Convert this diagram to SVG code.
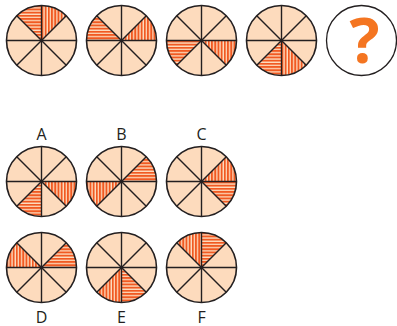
<svg xmlns="http://www.w3.org/2000/svg" xmlns:xlink="http://www.w3.org/1999/xlink" width="397" height="326" viewBox="0 0 397 326">
  <style>
    .disc { fill: #fddbbd; }
    .spoke { stroke: #231f20; stroke-width: 1.4; fill: none; }
    .rim { stroke: #231f20; stroke-width: 1.6; fill: none; }
    .label { font-family: "Open Sans", "Liberation Sans", sans-serif; font-size: 16px; fill: #231f20; text-anchor: middle; }
    .ask { font-family: "Open Sans", "Liberation Sans", sans-serif; font-weight: bold; font-size: 63px; fill: #f47521; text-anchor: middle; }
  </style>
  <defs>
    <!-- stripe fills -->
    <pattern id="horiz" patternUnits="userSpaceOnUse" width="6" height="3.2">
      <rect width="6" height="3.2" fill="#fddbbd"/>
      <rect width="6" height="1.9" fill="#f15a22"/>
    </pattern>
    <pattern id="vert" patternUnits="userSpaceOnUse" width="3.2" height="6">
      <rect width="3.2" height="6" fill="#fddbbd"/>
      <rect width="1.9" height="6" fill="#f15a22"/>
    </pattern>
    <!-- eight sectors, clockwise from 12 o'clock -->
    <path id="w0" d="M0,0 L0,-35 A35,35 0 0 1 24.75,-24.75 Z"/>
    <path id="w1" d="M0,0 L24.75,-24.75 A35,35 0 0 1 35,0 Z"/>
    <path id="w2" d="M0,0 L35,0 A35,35 0 0 1 24.75,24.75 Z"/>
    <path id="w3" d="M0,0 L24.75,24.75 A35,35 0 0 1 0,35 Z"/>
    <path id="w4" d="M0,0 L0,35 A35,35 0 0 1 -24.75,24.75 Z"/>
    <path id="w5" d="M0,0 L-24.75,24.75 A35,35 0 0 1 -35,0 Z"/>
    <path id="w6" d="M0,0 L-35,0 A35,35 0 0 1 -24.75,-24.75 Z"/>
    <path id="w7" d="M0,0 L-24.75,-24.75 A35,35 0 0 1 0,-35 Z"/>
    <circle id="disc" class="disc" r="35"/>
    <g id="spokes">
      <line class="spoke" x1="0" y1="-35" x2="0" y2="35"/>
      <line class="spoke" x1="-35" y1="0" x2="35" y2="0"/>
      <line class="spoke" x1="-24.75" y1="-24.75" x2="24.75" y2="24.75"/>
      <line class="spoke" x1="-24.75" y1="24.75" x2="24.75" y2="-24.75"/>
      <circle class="rim" r="35"/>
    </g>
  </defs>

  <!-- sequence row -->
  <g id="seq1" transform="translate(41.5,40.5)">
    <use xlink:href="#disc"/>
    <use xlink:href="#w0" fill="url(#vert)"/>
    <use xlink:href="#w7" fill="url(#horiz)"/>
    <use xlink:href="#spokes"/>
  </g>
  <g id="seq2" transform="translate(121.5,40.5)">
    <use xlink:href="#disc"/>
    <use xlink:href="#w1" fill="url(#vert)"/>
    <use xlink:href="#w6" fill="url(#horiz)"/>
    <use xlink:href="#spokes"/>
  </g>
  <g id="seq3" transform="translate(201.5,40.5)">
    <use xlink:href="#disc"/>
    <use xlink:href="#w2" fill="url(#vert)"/>
    <use xlink:href="#w5" fill="url(#horiz)"/>
    <use xlink:href="#spokes"/>
  </g>
  <g id="seq4" transform="translate(281.5,40.5)">
    <use xlink:href="#disc"/>
    <use xlink:href="#w3" fill="url(#vert)"/>
    <use xlink:href="#w4" fill="url(#horiz)"/>
    <use xlink:href="#spokes"/>
  </g>
  <g id="seq5" transform="translate(361.5,40.5)">
    <circle r="35" fill="#ffffff" stroke="#231f20" stroke-width="1.3"/>
    <text class="ask" x="3" y="22">?</text>
  </g>

  <!-- answer choices -->
  <g id="optA" transform="translate(41.5,181.5)">
    <text class="label" x="0" y="-42">A</text>
    <use xlink:href="#disc"/>
    <use xlink:href="#w2" fill="url(#vert)"/>
    <use xlink:href="#w4" fill="url(#horiz)"/>
    <use xlink:href="#spokes"/>
  </g>
  <g id="optB" transform="translate(121.5,181.5)">
    <text class="label" x="0" y="-42">B</text>
    <use xlink:href="#disc"/>
    <use xlink:href="#w1" fill="url(#horiz)"/>
    <use xlink:href="#w5" fill="url(#vert)"/>
    <use xlink:href="#spokes"/>
  </g>
  <g id="optC" transform="translate(201.5,181.5)">
    <text class="label" x="0" y="-42">C</text>
    <use xlink:href="#disc"/>
    <use xlink:href="#w1" fill="url(#vert)"/>
    <use xlink:href="#w2" fill="url(#horiz)"/>
    <use xlink:href="#spokes"/>
  </g>
  <g id="optD" transform="translate(41.5,267.5)">
    <use xlink:href="#disc"/>
    <use xlink:href="#w6" fill="url(#vert)"/>
    <use xlink:href="#w1" fill="url(#horiz)"/>
    <use xlink:href="#spokes"/>
    <text class="label" x="0" y="55">D</text>
  </g>
  <g id="optE" transform="translate(121.5,267.5)">
    <use xlink:href="#disc"/>
    <use xlink:href="#w4" fill="url(#vert)"/>
    <use xlink:href="#w3" fill="url(#horiz)"/>
    <use xlink:href="#spokes"/>
    <text class="label" x="0" y="55">E</text>
  </g>
  <g id="optF" transform="translate(201.5,267.5)">
    <use xlink:href="#disc"/>
    <use xlink:href="#w7" fill="url(#vert)"/>
    <use xlink:href="#w0" fill="url(#horiz)"/>
    <use xlink:href="#spokes"/>
    <text class="label" x="0" y="55">F</text>
  </g>
</svg>
